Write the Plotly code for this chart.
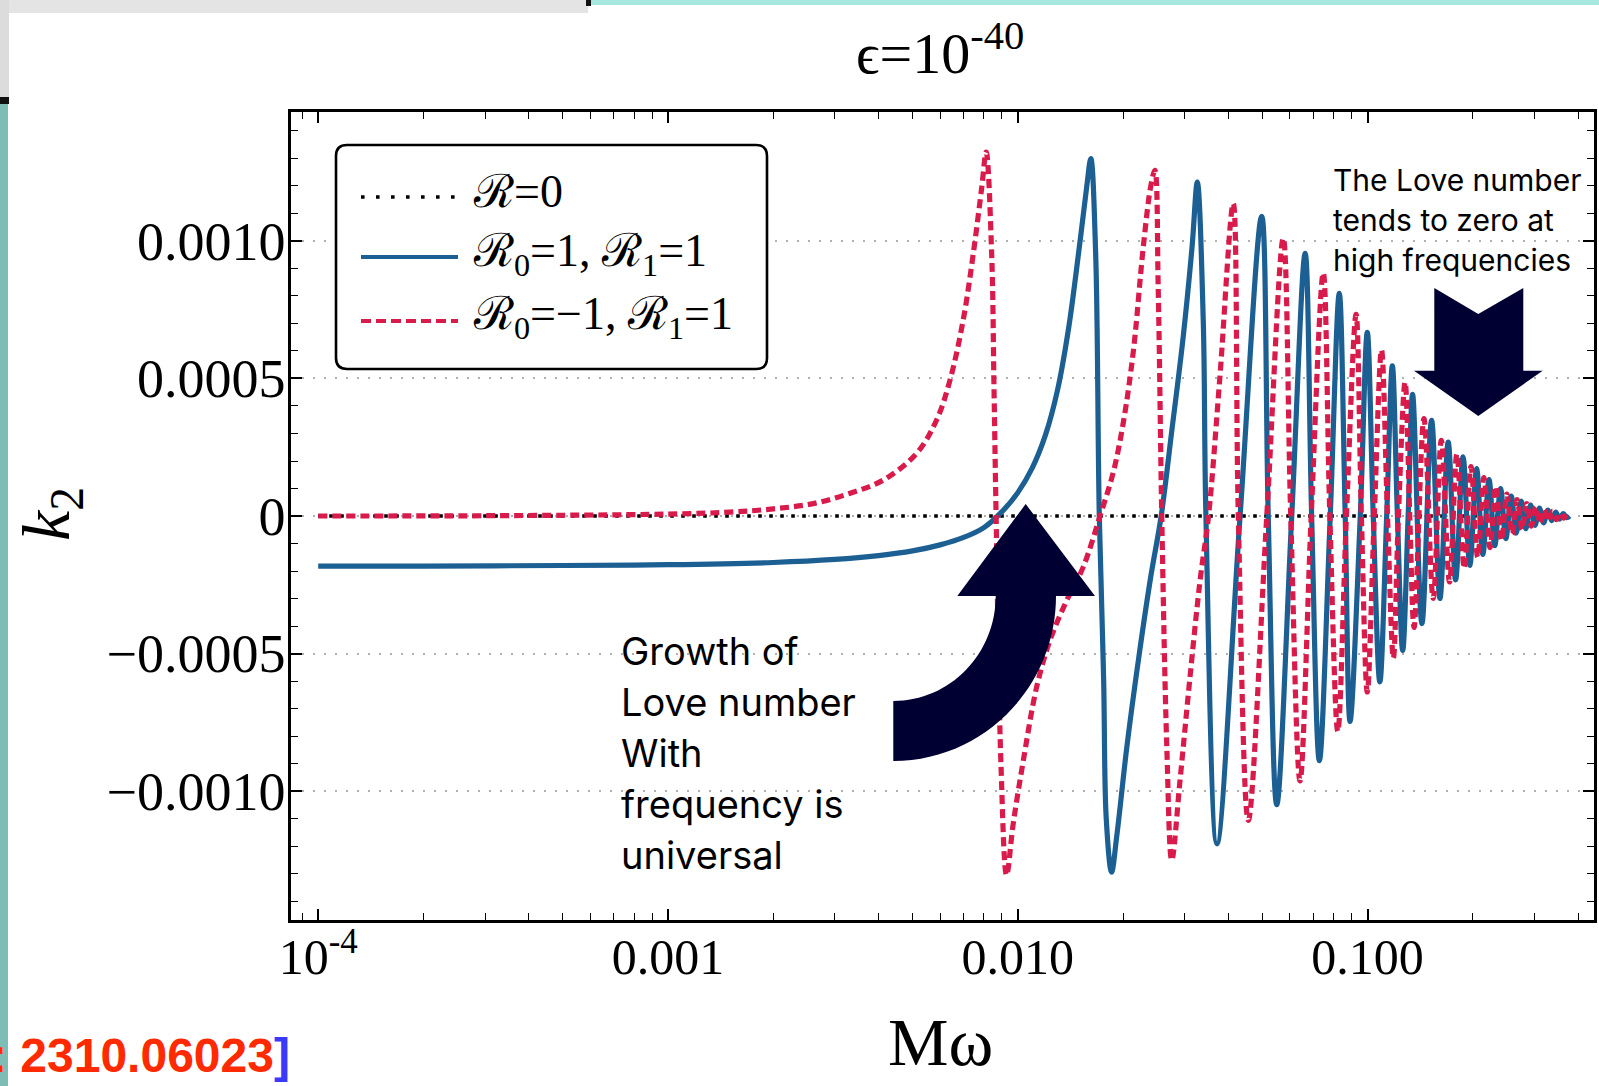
import plotly.graph_objects as go

W, H = 1599, 1086
L, R, T, B = 291, 1594, 112, 920


def px(xp):
    return (xp - L) / (R - L)


def py(yp):
    return (B - yp) / (B - T)


# ---------------- data ----------------
omega_zero = [1e-4, 0.378]
k2_zero = [0.0, 0.0]

omega_blue = [
    1.0e-4, 2.0e-4, 5.0e-4, 1.0e-3, 2.0e-3, 3.0e-3, 4.0e-3, 5.0e-3, 6.0e-3, 7.0e-3,
    8.0e-3, 9.0e-3, 0.0100, 0.0110, 0.0120, 0.0130, 0.0140, 0.0150, 0.01575, 0.01617,
    0.01670, 0.01710, 0.01760, 0.01790, 0.01854, 0.01920, 0.02050, 0.02220, 0.02400, 0.02570,
    0.02750, 0.02970, 0.03150, 0.03260, 0.03390, 0.03450, 0.03710, 0.04320, 0.04980, 0.05200,
    0.05500, 0.06070, 0.06630, 0.06920, 0.07280, 0.07820, 0.08300, 0.08630, 0.08910, 0.09530,
    0.09980, 0.10380, 0.10840, 0.11340, 0.11770, 0.12170, 0.12600, 0.13060, 0.13450, 0.1430,
    0.1524, 0.1610, 0.1700, 0.1785, 0.1875, 0.1960, 0.2050, 0.2135, 0.2225, 0.2310,
    0.2400, 0.2485, 0.2575, 0.2660, 0.2750, 0.2835, 0.2925, 0.3010, 0.3100, 0.3185,
    0.3275, 0.3360, 0.3450, 0.3535, 0.3625, 0.3710, 0.3780,
]
k2_blue = [
    -0.000182, -0.000182, -0.000180, -0.000177, -0.000169, -0.000158, -0.000144, -0.000127, -0.000105, -0.000078,
    -0.000042, 0.000015, 0.000085, 0.000175, 0.000295, 0.000460, 0.000690, 0.000980, 0.001200, 0.001300,
    0.000950, 0.0, -0.000600, -0.001100, -0.001295, -0.001160, -0.000840, -0.000510, -0.000220, 0.0,
    0.000300, 0.000650, 0.000980, 0.001214, 0.000712, 0.0, -0.001192, 0.0, 0.001090, 0.0,
    -0.001050, 0.0, 0.000955, 0.0, -0.000890, 0.0, 0.000810, 0.0, -0.000747, 0.0,
    0.000668, 0.0, -0.000603, 0.0, 0.000546, 0.0, -0.000489, 0.0, 0.000442, -0.000391,
    0.000348, -0.000300, 0.000269, -0.000232, 0.000215, -0.000180, 0.000172, -0.000140, 0.000132, -0.000108,
    0.000100, -0.000082, 0.000072, -0.000062, 0.000054, -0.000046, 0.000040, -0.000034, 0.000029, -0.000025,
    0.000021, -0.000017, 0.000014, -0.000011, 0.000009, -0.000006, 0.0,
]

omega_red = [
    1.0e-4, 3.0e-4, 1.0e-3, 1.5e-3, 2.0e-3, 2.6e-3, 3.3e-3, 4.13e-3, 5.14e-3, 5.86e-3,
    6.40e-3, 6.98e-3, 7.46e-3, 7.89e-3, 8.12e-3, 8.42e-3, 8.55e-3, 8.67e-3, 8.95e-3, 9.29e-3,
    9.70e-3, 0.01040, 0.01133, 0.01236, 0.01380, 0.01539, 0.01718, 0.01876, 0.02003, 0.02140,
    0.02285, 0.02400, 0.02465, 0.02520, 0.02580, 0.02667, 0.02755, 0.02910, 0.03100, 0.03320,
    0.03510, 0.03780, 0.04130, 0.04270, 0.04560, 0.05150, 0.05740, 0.06030, 0.06410, 0.06900,
    0.07470, 0.07800, 0.08220, 0.08700, 0.09270, 0.09600, 0.09980, 0.10450, 0.10960, 0.11400,
    0.11850, 0.12250, 0.12800, 0.13200, 0.13580, 0.1449, 0.1540, 0.1625, 0.1715, 0.1800,
    0.1890, 0.1975, 0.2065, 0.2150, 0.2240, 0.2325, 0.2415, 0.2500, 0.2590, 0.2675,
    0.2765, 0.2850, 0.2940, 0.3025, 0.3115, 0.3200, 0.3290, 0.3375, 0.3465, 0.3550,
    0.3640, 0.3725, 0.3780,
]
k2_red = [
    0.0, 0.000001, 0.000007, 0.000014, 0.000026, 0.000045, 0.000082, 0.000131, 0.000228, 0.000349,
    0.000494, 0.000712, 0.000954, 0.001196, 0.001323, 0.000954, 0.000470, 0.0, -0.000900, -0.001306,
    -0.001120, -0.000880, -0.000620, -0.000452, -0.000307, -0.000185, 0.0, 0.000160, 0.000340, 0.000600,
    0.000980, 0.001200, 0.001257, 0.000830, 0.0, -0.000840, -0.001252, -0.000960, -0.000598, -0.000234,
    0.0, 0.000500, 0.001136, 0.0, -0.001107, 0.0, 0.001010, 0.0, -0.000963, 0.0,
    0.000884, 0.0, -0.000783, 0.0, 0.000733, 0.0, -0.000640, 0.0, 0.000603, 0.0,
    -0.000517, 0.0, 0.000487, 0.0, -0.000405, 0.000354, -0.000300, 0.000275, -0.000240, 0.000225,
    -0.000190, 0.000180, -0.000150, 0.000140, -0.000115, 0.000108, -0.000088, 0.000080, -0.000066, 0.000060,
    -0.000050, 0.000045, -0.000037, 0.000033, -0.000027, 0.000024, -0.000019, 0.000017, -0.000013, 0.000011,
    -0.000008, 0.000006, 0.0,
]

legend_labels = ["ℛ=0", "ℛ<sub>0</sub>=1, ℛ<sub>1</sub>=1", "ℛ<sub>0</sub>=−1, ℛ<sub>1</sub>=1"]
x_tickvals = [1e-4, 1e-3, 1e-2, 1e-1]
x_ticktext = ["10<sup>-4</sup>", "0.001", "0.010", "0.100"]
x_minor = [9e-5] + [m * 10.0 ** e for e in (-4, -3, -2) for m in range(2, 10)] + [0.2, 0.3, 0.4]
x_gridvals = [5e-4, 1e-3, 5e-3, 1e-2, 5e-2, 1e-1]
y_tickvals = [-0.001, -0.0005, 0.0, 0.0005, 0.001]
y_ticktext = ["−0.0010", "−0.0005", "0", "0.0005", "0.0010"]

BLUE = "#1c5f93"
RED = "#d81b4a"
NAVY = "#000033"
SERIF = "Liberation Serif"
SANS = "Inter"

x_range = [-4.0778, -0.3527]
y_range = [-0.001469, 0.001469]

fig = go.Figure()
fig.add_trace(go.Scatter(x=omega_zero, y=k2_zero, mode="lines", name=legend_labels[0],
                         line=dict(color="black", width=3.6, dash="3.6px,7.4px"),
                         showlegend=False, hoverinfo="skip"))
fig.add_trace(go.Scatter(x=omega_blue, y=k2_blue, mode="lines", name=legend_labels[1],
                         line=dict(color=BLUE, width=5.2, shape="spline", smoothing=1.0),
                         showlegend=False, hoverinfo="skip"))
fig.add_trace(go.Scatter(x=omega_red, y=k2_red, mode="lines", name=legend_labels[2],
                         line=dict(color=RED, width=5.2, shape="spline", smoothing=1.0, dash="9px,5px"),
                         showlegend=False, hoverinfo="skip"))

grid_style = dict(gridcolor="#b0b0b0", griddash="2px,9px", gridwidth=1.7)

fig.update_layout(
    width=W, height=H,
    margin=dict(l=L, r=W - R, t=T, b=H - B, autoexpand=False),
    paper_bgcolor="white", plot_bgcolor="white",
    showlegend=False,
    xaxis=dict(type="log", range=x_range, tickmode="array", tickvals=x_tickvals, ticktext=x_ticktext,
               ticks="inside", ticklen=11, tickwidth=1.6, tickcolor="black", mirror="ticks",
               showline=True, linecolor="black", linewidth=2.5, showgrid=False, zeroline=False,
               tickfont=dict(family=SERIF, size=50, color="black"), ticklabelstandoff=-9,
               minor=dict(tickmode="array", tickvals=x_minor, ticks="inside", ticklen=7,
                          tickwidth=1.4, tickcolor="black", showgrid=False)),
    xaxis2=dict(type="log", range=x_range, overlaying="x", anchor="y", side="bottom",
                tickmode="array", tickvals=x_gridvals, showticklabels=False, ticks="",
                showline=False, zeroline=False, showgrid=True, **grid_style),
    yaxis=dict(range=y_range, tickmode="array", tickvals=y_tickvals, ticktext=y_ticktext,
               ticks="inside", ticklen=11, tickwidth=1.6, tickcolor="black", mirror="ticks",
               showline=True, linecolor="black", linewidth=2.5, zeroline=False, showgrid=True,
               tickfont=dict(family=SERIF, size=54, color="black"), ticklabelstandoff=-8,
               minor=dict(tick0=0, dtick=0.0001, ticks="inside", ticklen=7, tickwidth=1.4,
                          tickcolor="black", showgrid=False),
               **grid_style),
)

shapes = []
# slide background pieces around the picture
shapes.append(dict(type="rect", xref="paper", yref="paper", x0=px(0), x1=px(588), y0=py(0), y1=py(13),
                   fillcolor="#e4e4e4", line=dict(width=0), layer="below"))
shapes.append(dict(type="rect", xref="paper", yref="paper", x0=px(0), x1=px(9), y0=py(0), y1=py(97),
                   fillcolor="#dcdcdc", line=dict(width=0), layer="below"))
shapes.append(dict(type="rect", xref="paper", yref="paper", x0=px(0), x1=px(9), y0=py(97), y1=py(104),
                   fillcolor="#111111", line=dict(width=0), layer="below"))
shapes.append(dict(type="rect", xref="paper", yref="paper", x0=px(0), x1=px(8), y0=py(104), y1=py(H),
                   fillcolor="#7dbdb5", line=dict(width=0), layer="below"))
shapes.append(dict(type="rect", xref="paper", yref="paper", x0=px(586), x1=px(591), y0=py(0), y1=py(6),
                   fillcolor="#111111", line=dict(width=0), layer="below"))
shapes.append(dict(type="rect", xref="paper", yref="paper", x0=px(591), x1=px(W), y0=py(0), y1=py(5),
                   fillcolor="#a6e8df", line=dict(width=0), layer="below"))


def path_from(points_cmds):
    out = []
    for cmd, pts in points_cmds:
        coords = " ".join(f"{px(a):.5f},{py(b):.5f}" for a, b in pts)
        out.append(f"{cmd} {coords}" if coords else cmd)
    return " ".join(out)


# rounded legend box
x0, y0, x1, y1, r = 336, 145, 767, 369, 11
box = path_from([
    ("M", [(x0 + r, y0)]), ("L", [(x1 - r, y0)]), ("Q", [(x1, y0), (x1, y0 + r)]),
    ("L", [(x1, y1 - r)]), ("Q", [(x1, y1), (x1 - r, y1)]), ("L", [(x0 + r, y1)]),
    ("Q", [(x0, y1), (x0, y1 - r)]), ("L", [(x0, y0 + r)]), ("Q", [(x0, y0), (x0 + r, y0)]), ("Z", []),
])
shapes.append(dict(type="path", xref="paper", yref="paper", path=box, fillcolor="white",
                   line=dict(color="black", width=2.6), layer="above"))
# legend samples
sample_y = [197, 257, 321]
sample_styles = [dict(color="black", width=3.6, dash="3.6px,11.4px"),
                 dict(color=BLUE, width=4.2),
                 dict(color=RED, width=4.2, dash="10px,5px")]
for yy, st in zip(sample_y, sample_styles):
    shapes.append(dict(type="line", xref="paper", yref="paper", x0=px(361), x1=px(458),
                       y0=py(yy), y1=py(yy), line=st, layer="above"))

# curved up arrow
cx, cy = 893.3, 596.0
rx_i, ry_i = 102.4, 105.0
rx_o, ry_o = 162.7, 165.0
kk = 0.5523
up_arrow = path_from([
    ("M", [(cx, cy + ry_i)]),
    ("C", [(cx + kk * rx_i, cy + ry_i), (cx + rx_i, cy + kk * ry_i), (cx + rx_i, cy)]),
    ("L", [(957.3, cy)]), ("L", [(1025.7, 504.0)]), ("L", [(1095.0, cy)]), ("L", [(cx + rx_o, cy)]),
    ("C", [(cx + rx_o, cy + kk * ry_o), (cx + kk * rx_o, cy + ry_o), (cx, cy + ry_o)]),
    ("Z", []),
])
shapes.append(dict(type="path", xref="paper", yref="paper", path=up_arrow, fillcolor=NAVY,
                   line=dict(width=0), layer="above"))
# down arrow
down_arrow = path_from([
    ("M", [(1434.3, 288.0)]), ("L", [(1478.3, 314.0)]), ("L", [(1523.3, 288.0)]), ("L", [(1523.3, 370.7)]),
    ("L", [(1542.7, 370.7)]), ("L", [(1478.3, 416.0)]), ("L", [(1414.0, 370.7)]), ("L", [(1434.3, 370.7)]),
    ("Z", []),
])
shapes.append(dict(type="path", xref="paper", yref="paper", path=down_arrow, fillcolor=NAVY,
                   line=dict(width=0), layer="above"))
fig.update_layout(shapes=shapes)

ann = []
# legend text
for yy, lab in zip([191, 254, 317], legend_labels):
    ann.append(dict(x=px(471), y=py(yy), xref="paper", yref="paper", text=lab, showarrow=False,
                    xanchor="left", yanchor="middle", font=dict(family=SERIF, size=46, color="black")))
# title and axis titles
ann.append(dict(x=px(940), y=py(50), xref="paper", yref="paper", text="ϵ=10<sup>-40</sup>",
                showarrow=False, xanchor="center", yanchor="middle",
                font=dict(family=SERIF, size=58, color="black")))
ann.append(dict(x=px(940), y=py(1042), xref="paper", yref="paper", text="Mω",
                showarrow=False, xanchor="center", yanchor="middle",
                font=dict(family=SERIF, size=68, color="black")))
ann.append(dict(x=px(50), y=py(514), xref="paper", yref="paper", text="<i>k</i><sub>2</sub>",
                showarrow=False, xanchor="center", yanchor="middle", textangle=-90,
                font=dict(family=SERIF, size=68, color="black")))
# explanatory notes
for yy, line in zip([651, 702, 753, 804, 855],
                    ["Growth of", "Love number", "With", "frequency is", "universal"]):
    ann.append(dict(x=px(619), y=py(yy), xref="paper", yref="paper", text=line, showarrow=False,
                    xanchor="left", yanchor="middle", font=dict(family=SANS, size=38, color="black")))
for yy, line in zip([180, 220, 260], ["The Love number", "tends to zero at", "high frequencies"]):
    ann.append(dict(x=px(1331), y=py(yy), xref="paper", yref="paper", text=line, showarrow=False,
                    xanchor="left", yanchor="middle", font=dict(family=SANS, size=30, color="black")))
# reference tag at bottom left
ann.append(dict(x=px(292), y=py(1055), xref="paper", yref="paper",
                text='<b><span style="color:#ff2a00">: 2310.06023</span><span style="color:#3a3aff">]</span></b>',
                showarrow=False, xanchor="right", yanchor="middle",
                font=dict(family="Liberation Sans", size=48, color="#ff2a00")))
fig.update_layout(annotations=ann)

fig.write_html("out.html", config={"displayModeBar": False},
               post_script="document.body.style.margin='0px';document.body.style.overflow='hidden';")
